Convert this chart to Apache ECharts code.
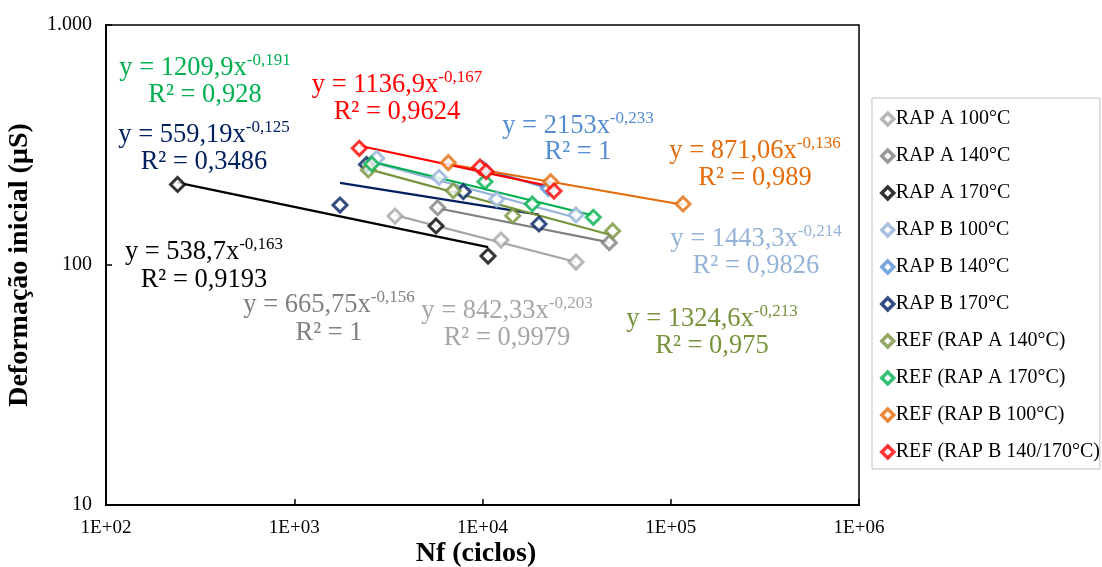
<!DOCTYPE html>
<html><head><meta charset="utf-8">
<script src="https://cdn.jsdelivr.net/npm/echarts@6/dist/echarts.min.js"></script>
<style>html,body{margin:0;padding:0;background:#fff}#c{width:1102px;height:567px}</style>
</head><body><div id="c"></div>
<script>
// ---- data (Nf [ciclos], deformação inicial [µS]) ----
const seriesNames = ['RAP A 100°C','RAP A 140°C','RAP A 170°C','RAP B 100°C','RAP B 140°C','RAP B 170°C',
  'REF (RAP A 140°C)','REF (RAP A 170°C)','REF (RAP B 100°C)','REF (RAP B 140/170°C)'];
const rapA100 = [[3429,160.0],[12540,127.1],[31380,102.9]];
const rapA140 = [[5781,173.3],[47160,123.9]];
const rapA170 = [[240,216.5],[5662,145.4],[10700,109.0]];
const rapB100 = [[2742,278.4],[5875,232.0],[11900,187.8],[31380,161.6]];
const rapB140 = [[10062,251.2],[22360,208.7]];
const rapB170 = [[1750,177.8],[2420,262.2],[7907,202.0],[19953,148.2]];
const refA140 = [[2474,248.8],[6998,204.0],[14470,160.4],[49150,138.6]];
const refA170 = [[2579,263.6],[10310,222.4],[18390,179.6],[38780,158.1]];
const refB100 = [[6580,266.9],[23030,222.4],[116200,179.6]];
const refB140170 = [[2216,306.4],[9699,256.0],[10440,245.2],[23970,203.3]];
// power trendline coefficients y = a·x^b (as printed on the chart)
const trendA = [842.33, 665.75, 538.7, 1443.3, 2153, 559.19, 1324.6, 1209.9, 871.06, 1136.9];
const trendB = [-0.203, -0.156, -0.163, -0.214, -0.233, -0.125, -0.213, -0.191, -0.136, -0.167];
const eqCoefText = ['842,33','665,75','538,7','1443,3','2153','559,19','1324,6','1209,9','871,06','1136,9'];
const eqExpText = ['-0,203','-0,156','-0,163','-0,214','-0,233','-0,125','-0,213','-0,191','-0,136','-0,167'];
const r2Text = ['0,9979','1','0,9193','0,9826','1','0,3486','0,975','0,928','0,989','0,9624'];
const xTickLabels = ['1E+02','1E+03','1E+04','1E+05','1E+06'];

const allData = [rapA100, rapA140, rapA170, rapB100, rapB140, rapB170, refA140, refA170, refB100, refB140170];
const colors = ['#A6A6A6','#808080','#000000','#95B3D7','#558ED5','#002060','#77933C','#00B050','#E46C0A','#FF0000'];
// label centres [x, y of equation line, y of R² line]
const labelPos = [[507,310,338],[329,304,333],[204,251,280],[756,238,266],[578,125,152],[204,134,162],
  [712,318,346],[205,67,95],[755,150,178],[397,84,112]];

const FONT = 'Liberation Serif';
const series = [];
allData.forEach((d, i) => {
  const xs = d.map(p => p[0]);
  const xmin = Math.min(...xs), xmax = Math.max(...xs);
  series.push({
    type: 'line', name: 'trend' + i, data: [[xmin, trendA[i]*Math.pow(xmin, trendB[i])],[xmax, trendA[i]*Math.pow(xmax, trendB[i])]],
    showSymbol: false, symbol: 'none', lineStyle: {color: colors[i], width: 2.2}, silent: true, z: 2
  });
});
allData.forEach((d, i) => {
  series.push({
    type: 'scatter', name: seriesNames[i], data: d, symbol: 'diamond', symbolSize: 14,
    itemStyle: {color: '#fff', borderColor: colors[i], borderWidth: 3}, z: 3
  });
});

const graphics = [];
labelPos.forEach((p, i) => {
  graphics.push({
    type: 'text', x: p[0], y: p[1], z: 10,
    style: {
      text: '{b|y = ' + eqCoefText[i] + 'x}{s|' + eqExpText[i] + '}',
      align: 'center', verticalAlign: 'middle',
      rich: {
        b: {fontFamily: FONT, fontSize: 26.5, fill: colors[i], color: colors[i], lineHeight: 30, verticalAlign: 'bottom'},
        s: {fontFamily: FONT, fontSize: 17, fill: colors[i], color: colors[i], lineHeight: 30, verticalAlign: 'top', padding: [0,0,11,0]}
      }
    }
  });
  graphics.push({
    type: 'text', x: p[0], y: p[2], z: 10,
    style: {text: 'R² = ' + r2Text[i], align: 'center', verticalAlign: 'middle',
      font: '26.5px "' + FONT + '"', fill: colors[i]}
  });
});
// axis titles
graphics.push({type: 'text', x: 476, y: 554, z: 10,
  style: {text: 'Nf (ciclos)', align: 'center', verticalAlign: 'middle', font: 'bold 28px "' + FONT + '"', fill: '#000'}});
graphics.push({type: 'text', x: 20, y: 265, rotation: Math.PI / 2, z: 10,
  style: {text: 'Deformação inicial (µS)', align: 'center', verticalAlign: 'middle', font: 'bold 28px "' + FONT + '"', fill: '#000'}});

const chart = echarts.init(document.getElementById('c'), null, {renderer: 'canvas'});
chart.setOption({
  animation: false,
  backgroundColor: '#fff',
  grid: {left: 106, top: 25, width: 753, height: 480, show: true, borderColor: '#000', borderWidth: 1.5,
    backgroundColor: 'transparent', containLabel: false, outerBoundsMode: 'none'},
  xAxis: {
    type: 'log', logBase: 10, min: 100, max: 1000000,
    axisLine: {lineStyle: {color: '#000', width: 2}},
    axisTick: {inside: true, length: 6, lineStyle: {color: '#000', width: 1.5}},
    axisLabel: {fontFamily: FONT, fontSize: 19, color: '#000', margin: 14,
      formatter: v => xTickLabels[Math.round(Math.log10(v)) - 2]},
    splitLine: {show: false}, minorTick: {show: false}
  },
  yAxis: {
    type: 'log', logBase: 10, min: 10, max: 1000,
    axisLine: {lineStyle: {color: '#000', width: 2}},
    axisTick: {inside: true, length: 6, lineStyle: {color: '#000', width: 1.5}},
    axisLabel: {fontFamily: FONT, fontSize: 20, color: '#000', margin: 14,
      formatter: v => v >= 1000 ? '1.000' : String(Math.round(v))},
    splitLine: {show: false}
  },
  legend: {
    data: seriesNames, orient: 'vertical', left: 872, top: 98,
    padding: [11, 0, 7, 8], itemGap: 17, itemWidth: 12, itemHeight: 12,
    borderColor: '#BFBFBF', borderWidth: 1, icon: 'diamond',
    itemStyle: {borderWidth: 3.5},
    textStyle: {fontFamily: FONT, fontSize: 20, color: '#000', lineHeight: 20, padding: [0,0,0,-3]},
    selectedMode: false
  },
  graphic: graphics,
  series: series
});
</script></body></html>
